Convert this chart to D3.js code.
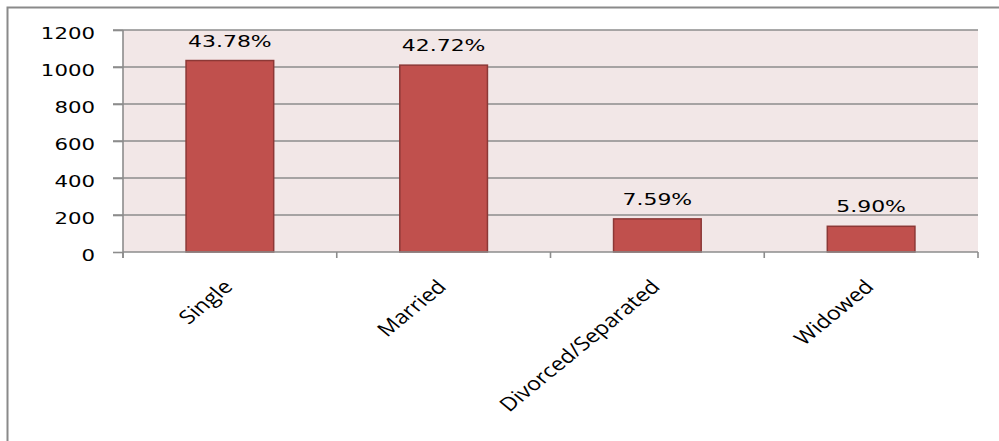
<!DOCTYPE html>
<html><head><meta charset="utf-8">
<script src="https://cdn.jsdelivr.net/npm/d3@7"></script>
<style>body{margin:0;background:#fff}svg{display:block}</style>
</head><body>
<svg id="c" width="999" height="441"></svg>
<script>
const categories = ["Single", "Married", "Divorced/Separated", "Widowed"];
const counts = [1035, 1010, 179, 139];
const percentLabels = ["43.78%", "42.72%", "7.59%", "5.90%"];
const yTicks = [0, 200, 400, 600, 800, 1000, 1200];

const W = 999, H = 441;
const m = {left: 123, right: 21, top: 30, bottom: 189};
const sx = 1.33; // horizontal stretch of the original picture's text
const sxl = 1.22;
const svg = d3.select("#c");

// outer frame
svg.append("rect").attr("x", 7.5).attr("y", 7.5).attr("width", W + 20).attr("height", H + 20)
  .attr("fill", "#fff").attr("stroke", "#8a8a8a").attr("stroke-width", 2);

const x = d3.scaleBand().domain(categories).range([m.left, W - m.right])
  .paddingInner(0.59).paddingOuter(0.295);
const y = d3.scaleLinear().domain([0, 1200]).range([H - m.bottom, m.top]);

const g = svg.append("g");
// plot background
g.append("rect").attr("x", m.left).attr("y", y(1200)).attr("width", W - m.right - m.left)
  .attr("height", y(0) - y(1200)).attr("fill", "#F2E7E7");

// gridlines
g.selectAll(".grid").data(yTicks.filter(d => d > 0)).join("line")
  .attr("x1", m.left - 10).attr("x2", W - m.right)
  .attr("y1", d => y(d)).attr("y2", d => y(d))
  .attr("stroke", "#8c8c8c").attr("stroke-width", 1.6);

// bars
g.selectAll(".bar").data(categories).join("rect")
  .attr("x", d => x(d)).attr("width", x.bandwidth())
  .attr("y", (d, i) => y(counts[i])).attr("height", (d, i) => y(0) - y(counts[i]))
  .attr("fill", "#C0504D").attr("stroke", "#8C3836").attr("stroke-width", 1.5);

// y axis
const yAxis = d3.axisLeft(y).tickValues(yTicks).tickSize(10).tickSizeOuter(0).tickFormat(d3.format("d"));
const ya = g.append("g").attr("transform", `translate(${m.left},0)`).call(yAxis);
ya.select(".domain").attr("stroke", "#8c8c8c").attr("stroke-width", 1.6)
  .attr("d", `M0,${y(1200)}V${y(0) + 6}`);
ya.selectAll(".tick line").attr("stroke", "#8c8c8c").attr("stroke-width", 1.6);
ya.selectAll(".tick text").attr("x", null).attr("dy", null)
  .attr("transform", `translate(-28,8.5) scale(${sx},1)`)
  .attr("font-family", "DejaVu Sans").attr("font-size", 16).attr("fill", "#000");

// x axis
const xa = g.append("g").attr("transform", `translate(0,${y(0)})`)
  .call(d3.axisBottom(x).tickSize(0).tickSizeOuter(0));
xa.select(".domain").attr("stroke", "#8c8c8c").attr("stroke-width", 1.6)
  .attr("d", `M${m.left},0H${W - m.right}`);
// tick marks at category boundaries
const step = x.step();
const bounds = d3.range(categories.length + 1).map(i => m.left + i * step);
xa.selectAll(".bt").data(bounds).join("line")
  .attr("x1", d => d).attr("x2", d => d).attr("y1", 0).attr("y2", 6)
  .attr("stroke", "#8c8c8c").attr("stroke-width", 1.6);
xa.selectAll(".tick text").attr("y", null).attr("dy", null)
  .attr("text-anchor", "end")
  .attr("transform", `translate(4,36) scale(${sxl},1) rotate(-45)`)
  .attr("font-family", "Open Sans").attr("font-size", 19).attr("fill", "#000");

// data labels
g.selectAll(".lbl").data(categories).join("text")
  .attr("transform", (d, i) => `translate(${x(d) + x.bandwidth() / 2},${y(counts[i]) - 14}) scale(${sx},1)`)
  .attr("text-anchor", "middle")
  .attr("font-family", "DejaVu Sans").attr("font-size", 16.5).attr("fill", "#000")
  .text((d, i) => percentLabels[i]);
</script>
</body></html>
